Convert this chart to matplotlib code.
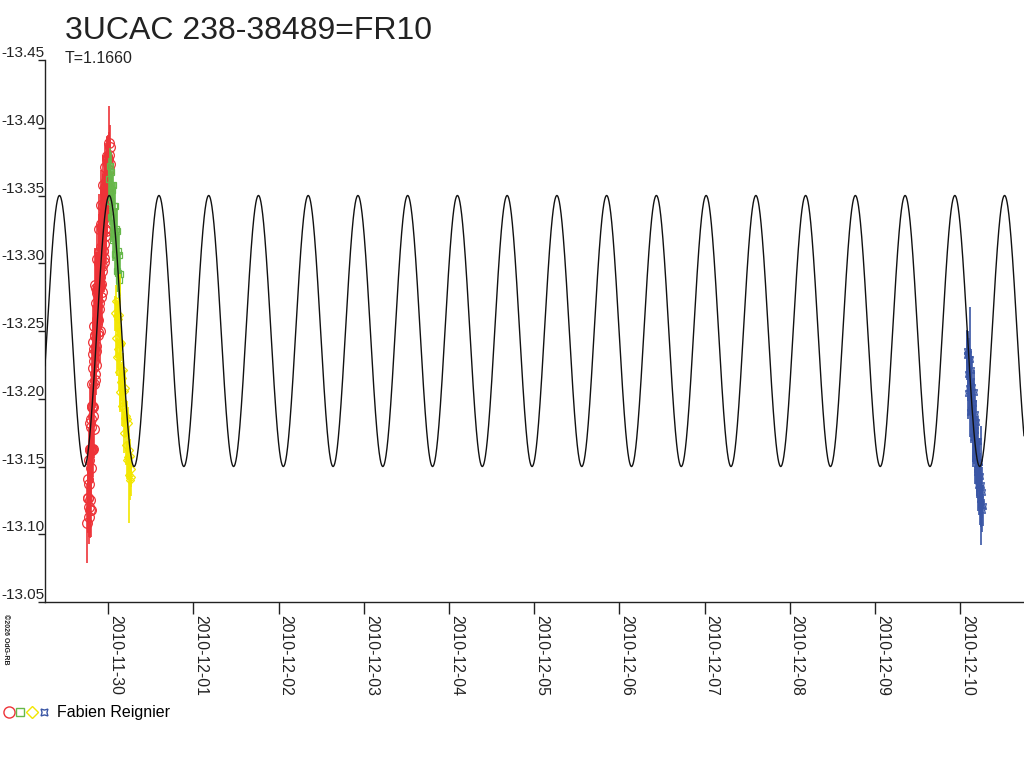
import matplotlib
matplotlib.use('Agg')
import matplotlib.pyplot as plt
import matplotlib.dates as mdates
from matplotlib.lines import Line2D
from matplotlib.legend_handler import HandlerTuple
import numpy as np
from datetime import datetime

plt.rcParams['font.family'] = ['Liberation Sans', 'DejaVu Sans']

# ---------------- texts ----------------
title = "3UCAC 238-38489=FR10"
subtitle = "T=1.1660"
observer = "Fabien Reignier"
credit = "\u00a92026 OdG-RB"

# ---------------- axes ----------------
base_date = datetime(2010, 11, 29)
x_start = 0.257          # days after base date
x_end = 11.751
y_ticks = [-13.45, -13.40, -13.35, -13.30, -13.25, -13.20, -13.15, -13.10, -13.05]
tick_dates = ['2010-11-30', '2010-12-01', '2010-12-02', '2010-12-03', '2010-12-04',
              '2010-12-05', '2010-12-06', '2010-12-07', '2010-12-08', '2010-12-09',
              '2010-12-10']

# ---------------- model (sine fit) ----------------
model_period = 0.584     # days
model_epoch = 0.427      # days after base date (maximum)
model_mean = -13.25
model_amp = 0.10

# ---------------- observations (days after base date, mag, error) ----------------
red_t = [0.753, 0.757, 0.761, 0.765, 0.768, 0.772, 0.776, 0.780, 0.784, 0.788,
         0.792, 0.795, 0.799, 0.803, 0.807, 0.811, 0.815, 0.818, 0.822, 0.826,
         0.830, 0.834, 0.838, 0.842, 0.845, 0.849, 0.853, 0.857, 0.861, 0.865,
         0.869, 0.872, 0.876, 0.880, 0.884, 0.888, 0.892, 0.896, 0.899, 0.903,
         0.907, 0.911, 0.915, 0.919, 0.922, 0.926, 0.930, 0.934, 0.938, 0.942,
         0.946, 0.949, 0.953, 0.957, 0.961, 0.965, 0.969, 0.973, 0.976, 0.980,
         0.984, 0.988, 0.992, 0.996, 1.000, 1.003, 1.007, 1.011, 1.015, 1.019,
         0.774, 0.780, 0.786, 0.792, 0.798, 0.804, 0.810, 0.816, 0.822, 0.828,
         0.834, 0.840, 0.846, 0.852, 0.858, 0.864, 0.870, 0.876, 0.882, 0.888,
         0.894, 0.900, 0.906, 0.912, 0.918, 0.924, 0.930, 0.936, 0.942, 0.948,
         0.954, 0.960, 0.966, 0.972, 0.978, 0.984, 0.990, 0.996, 1.002, 1.008]
red_mag = [-13.108, -13.127, -13.141, -13.127, -13.113, -13.155, -13.120, -13.182, -13.118, -13.163,
           -13.118, -13.185, -13.162, -13.211, -13.162, -13.194, -13.163, -13.242, -13.194, -13.233,
           -13.178, -13.254, -13.228, -13.246, -13.214, -13.284, -13.235, -13.282, -13.225, -13.280,
           -13.259, -13.303, -13.249, -13.280, -13.247, -13.325, -13.266, -13.308, -13.250, -13.302,
           -13.290, -13.329, -13.275, -13.343, -13.294, -13.328, -13.279, -13.342, -13.309, -13.358,
           -13.304, -13.335, -13.301, -13.356, -13.320, -13.371, -13.339, -13.361, -13.324, -13.379,
           -13.341, -13.377, -13.353, -13.377, -13.352, -13.380, -13.369, -13.389, -13.373, -13.386,
           -13.137, -13.125, -13.162, -13.149, -13.179, -13.163, -13.195, -13.187, -13.223, -13.211,
           -13.237, -13.218, -13.247, -13.239, -13.271, -13.255, -13.278, -13.258, -13.283, -13.271,
           -13.300, -13.284, -13.305, -13.285, -13.312, -13.298, -13.325, -13.309, -13.332, -13.314,
           -13.337, -13.325, -13.352, -13.336, -13.357, -13.344, -13.365, -13.356, -13.373, -13.369]
red_err = [0.029, 0.025, 0.022, 0.026, 0.020, 0.024, 0.022, 0.027, 0.021, 0.025,
           0.020, 0.026, 0.023, 0.028, 0.022, 0.025, 0.021, 0.027, 0.024, 0.026,
           0.022, 0.028, 0.023, 0.025, 0.021, 0.027, 0.024, 0.026, 0.022, 0.028,
           0.023, 0.025, 0.021, 0.027, 0.024, 0.026, 0.022, 0.028, 0.023, 0.025,
           0.021, 0.027, 0.024, 0.026, 0.022, 0.025, 0.023, 0.024, 0.021, 0.022,
           0.024, 0.023, 0.022, 0.021, 0.024, 0.018, 0.022, 0.020, 0.023, 0.015,
           0.021, 0.016, 0.022, 0.018, 0.020, 0.017, 0.019, 0.027, 0.018, 0.016,
           0.022, 0.024, 0.021, 0.026, 0.023, 0.025, 0.022, 0.027, 0.024, 0.021,
           0.026, 0.023, 0.025, 0.022, 0.027, 0.024, 0.021, 0.026, 0.023, 0.025,
           0.022, 0.027, 0.024, 0.021, 0.026, 0.023, 0.025, 0.022, 0.024, 0.021,
           0.023, 0.022, 0.020, 0.023, 0.021, 0.022, 0.020, 0.021, 0.019, 0.020]

green_t = [1.010, 1.016, 1.022, 1.028, 1.034, 1.040, 1.046, 1.052, 1.058, 1.064,
           1.070, 1.076, 1.082, 1.088, 1.094, 1.100, 1.106, 1.112, 1.118, 1.124,
           1.130, 1.136]
green_mag = [-13.362, -13.372, -13.346, -13.367, -13.334, -13.354, -13.334, -13.358, -13.317, -13.342,
             -13.322, -13.342, -13.307, -13.325, -13.306, -13.324, -13.294, -13.309, -13.293, -13.306,
             -13.288, -13.292]
green_err = [0.016, 0.013, 0.018, 0.015, 0.017, 0.014, 0.018, 0.016, 0.015, 0.017,
             0.014, 0.018, 0.015, 0.016, 0.014, 0.017, 0.015, 0.016, 0.014, 0.017,
             0.015, 0.016]

yellow_t = [1.080, 1.086, 1.092, 1.097, 1.103, 1.109, 1.115, 1.120, 1.126, 1.132,
            1.138, 1.143, 1.149, 1.155, 1.161, 1.166, 1.172, 1.178, 1.184, 1.189,
            1.195, 1.201, 1.207, 1.212, 1.218, 1.224, 1.230, 1.235, 1.241, 1.247,
            1.253, 1.258, 1.264, 1.270]
yellow_mag = [-13.263, -13.272, -13.245, -13.261, -13.231, -13.259, -13.237, -13.262, -13.220, -13.240,
              -13.205, -13.242, -13.212, -13.241, -13.195, -13.215, -13.193, -13.221, -13.175, -13.206,
              -13.186, -13.208, -13.166, -13.187, -13.155, -13.185, -13.157, -13.182, -13.144, -13.162,
              -13.140, -13.158, -13.142, -13.148]
yellow_err = [0.013, 0.012, 0.015, 0.012, 0.014, 0.013, 0.015, 0.012, 0.014, 0.013,
              0.015, 0.050, 0.014, 0.013, 0.015, 0.012, 0.014, 0.013, 0.015, 0.012,
              0.014, 0.013, 0.015, 0.012, 0.014, 0.013, 0.015, 0.012, 0.036, 0.013,
              0.015, 0.012, 0.014, 0.013]

blue_t = [11.080, 11.085, 11.090, 11.094, 11.099, 11.104, 11.109, 11.113, 11.118, 11.123,
          11.128, 11.132, 11.137, 11.142, 11.147, 11.151, 11.156, 11.161, 11.166, 11.170,
          11.175, 11.180, 11.185, 11.189, 11.194, 11.199, 11.204, 11.208, 11.213, 11.218,
          11.223, 11.227, 11.232, 11.237, 11.242, 11.246, 11.251, 11.256, 11.261, 11.265]
blue_mag = [-13.232, -13.235, -13.218, -13.233, -13.204, -13.229, -13.208, -13.229, -13.190, -13.213,
            -13.192, -13.221, -13.192, -13.209, -13.170, -13.197, -13.172, -13.205, -13.172, -13.189,
            -13.156, -13.177, -13.158, -13.183, -13.146, -13.169, -13.148, -13.169, -13.136, -13.153,
            -13.134, -13.153, -13.126, -13.143, -13.124, -13.136, -13.122, -13.131, -13.118, -13.121]
blue_err = [0.018, 0.016, 0.020, 0.017, 0.019, 0.016, 0.020, 0.039, 0.018, 0.017,
            0.020, 0.016, 0.019, 0.018, 0.020, 0.017, 0.019, 0.016, 0.020, 0.018,
            0.019, 0.017, 0.020, 0.016, 0.019, 0.018, 0.020, 0.017, 0.019, 0.016,
            0.020, 0.018, 0.019, 0.017, 0.018, 0.044, 0.017, 0.019, 0.016, 0.015]

# ---------------- colours ----------------
c_red = '#EE3338'
c_green = '#66B84A'
c_yellow = '#F2E600'
c_blue = '#3A56A5'
c_axis = '#222222'

# ---------------- figure ----------------
fig = plt.figure(figsize=(10.24, 7.68), dpi=100)
fig.patch.set_facecolor('white')
W, H = 1024.0, 768.0
ax = fig.add_axes([45 / W, 1 - 602 / H, (1024 - 45) / W, (602 - 60) / H])

b = mdates.date2num(base_date)


def to_x(days):
    return b + np.asarray(days, dtype=float)


series = [
    (red_t, red_mag, red_err, c_red, 'o', 7.0),
    (green_t, green_mag, green_err, c_green, 's', 5.0),
    (yellow_t, yellow_mag, yellow_err, c_yellow, 'D', 4.5),
    (blue_t, blue_mag, blue_err, c_blue, (4, 1, 45), 6.0),
]
for t, m, e, c, mk, ms in series:
    ax.errorbar(to_x(t), m, yerr=e, fmt='none', ecolor=c,
                elinewidth=1.2, capsize=0, zorder=2)
    ax.plot(to_x(t), m, ls='none', marker=mk, mfc='none', mec=c, ms=ms, mew=0.9, zorder=2)

# model curve
tt = np.linspace(x_start, x_end, 4000)
mm = model_mean - model_amp * np.cos(2 * np.pi * (tt - model_epoch) / model_period)
ax.plot(to_x(tt), mm, color='#111111', lw=1.0, zorder=3)

ax.set_xlim(to_x(x_start), to_x(x_end))
ax.set_ylim(-13.05, -13.45)

# y axis
ax.set_yticks(y_ticks)
ax.set_yticklabels(['%.2f' % v for v in y_ticks], fontsize=11, va='bottom')
ax.tick_params(axis='y', direction='out', length=5, width=1.0, pad=-5.0, colors=c_axis)

# x axis
xt = [mdates.date2num(datetime.strptime(d, '%Y-%m-%d')) for d in tick_dates]
ax.set_xticks(xt)
ax.set_xticklabels(tick_dates, rotation=270, ha='left', va='top', fontsize=11.3)
ax.tick_params(axis='x', direction='out', length=8.6, width=1.0, pad=0.5, colors=c_axis)

for s in ['top', 'right']:
    ax.spines[s].set_visible(False)
for s in ['left', 'bottom']:
    ax.spines[s].set_color(c_axis)
    ax.spines[s].set_linewidth(1.0)

# titles
fig.text(65 / W, 1 - 39 / H, title, fontsize=23, ha='left', va='baseline', color='#222222')
fig.text(65 / W, 1 - 63 / H, subtitle, fontsize=11.5, ha='left', va='baseline', color='#222222')

# credit
fig.text(5 / W, 1 - 614 / H, credit, fontsize=5, rotation=270, ha='center', va='top',
         fontweight='bold', color='#222222')

# legend
h_red = Line2D([], [], ls='none', marker='o', mfc='none', mec=c_red, ms=8, mew=1.0)
h_green = Line2D([], [], ls='none', marker='s', mfc='none', mec=c_green, ms=6, mew=1.0)
h_yellow = Line2D([], [], ls='none', marker='D', mfc='none', mec=c_yellow, ms=6, mew=1.0)
h_blue = Line2D([], [], ls='none', marker=(4, 1, 45), mfc='none', mec=c_blue, ms=7, mew=1.0)
fig.legend(handles=[(h_red, h_green, h_yellow, h_blue)], labels=[observer],
           handler_map={tuple: HandlerTuple(ndivide=None, pad=0.0)},
           loc='center left', bbox_to_anchor=(3 / W, 1 - 713 / H), frameon=False,
           handlelength=2.9, handletextpad=0.5, borderaxespad=0, borderpad=0,
           fontsize=11.5)

fig.savefig('out.png', dpi=100, facecolor='white')
